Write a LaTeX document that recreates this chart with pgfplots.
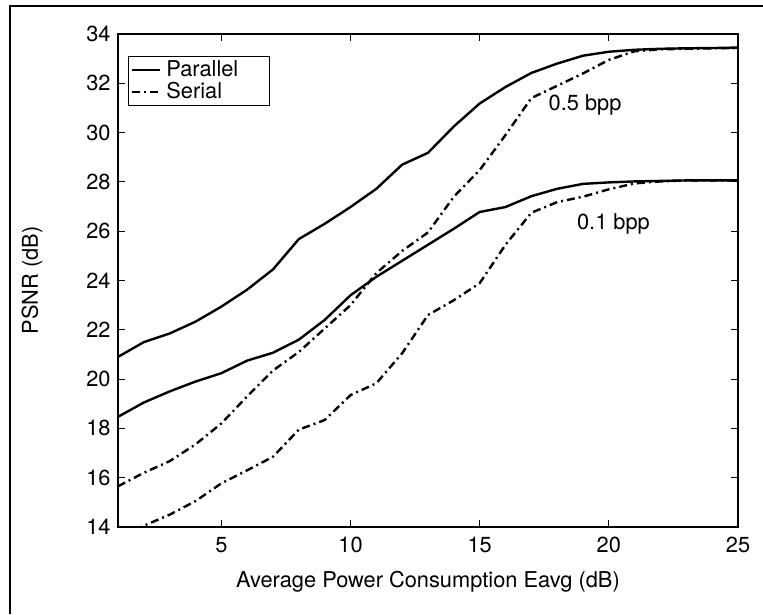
\documentclass[border=0pt]{standalone}
\usepackage{fontspec}
\setmainfont{TeX Gyre Heros}
\usepackage{pgfplots}
\pgfplotsset{compat=1.18}
\newcommand{\bigf}{\fontsize{21.8}{26}\selectfont}
\begin{document}
\bigf
\begin{tikzpicture}[x=1pt,y=1pt]
\useasboundingbox (0,0) rectangle (763,614);
\draw[line width=1.4pt] (10,0) -- (10,608) -- (763,608);
\begin{axis}[
  at={(118pt,87pt)}, anchor=south west,
  scale only axis, width=620pt, height=493pt,
  xmin=1, xmax=25, ymin=14, ymax=34,
  xtick={5,10,15,20,25}, ytick={14,16,...,34},
  tick align=inside, major tick length=7pt,
  axis line style={line width=1.2pt},
  every tick/.style={line width=1.2pt, black},
  /pgf/number format/assume math mode=true,
  ticklabel style={font=\bigf},
  xticklabel style={yshift=-3pt},
  xlabel={Average Power Consumption Eavg (dB)},
  ylabel={PSNR (dB)},
  label style={font=\bigf},
  xlabel style={at={(axis description cs:0.5,-0.1116)}, anchor=center},
  ylabel style={at={(axis description cs:-0.1387,0.5)}, anchor=center},
  legend style={at={(rel axis cs:0.0161,0.955)}, anchor=north west,
    draw=black, line width=1pt, font=\bigf,
    nodes={inner ysep=1.5pt, inner xsep=5.5pt}, row sep=0pt, inner sep=2pt},
  legend cell align=left,
  legend image code/.code={\draw[#1] (0pt,0pt) -- (28pt,0pt);},
]
\addplot[black, line width=2.4pt] coordinates {
(1,20.9) (2,21.5) (3,21.85) (4,22.33) (5,22.94) (6,23.63) (7,24.45) (8,25.68) (9,26.3) (10,26.98)
(11,27.72) (12,28.7) (13,29.18) (14,30.25) (15,31.18) (16,31.85) (17,32.42) (18,32.8) (19,33.12) (20,33.28)
(21,33.36) (22,33.4) (23,33.42) (24,33.43) (25,33.45)};
\addlegendentry{\bigf Parallel\hspace*{24pt}}
\addplot[black, line width=2.4pt, dash pattern=on 8pt off 4pt on 2pt off 4pt] coordinates {
(1,15.65) (2,16.2) (3,16.67) (4,17.35) (5,18.2) (6,19.3) (7,20.35) (8,21.1) (9,22.05) (10,23.0)
(11,24.3) (12,25.2) (13,25.95) (14,27.4) (15,28.48) (16,29.9) (17,31.4) (18,31.9) (19,32.4) (20,32.95)
(21,33.3) (22,33.38) (23,33.4) (24,33.42) (25,33.42)};
\addlegendentry{\bigf Serial}
\addplot[black, line width=2.4pt, forget plot] coordinates {
(1,18.47) (2,19.05) (3,19.5) (4,19.9) (5,20.24) (6,20.75) (7,21.07) (8,21.6) (9,22.4) (10,23.4)
(11,24.15) (12,24.8) (13,25.45) (14,26.1) (15,26.78) (16,26.98) (17,27.42) (18,27.72) (19,27.92) (20,27.98)
(21,28.02) (22,28.04) (23,28.06) (24,28.06) (25,28.06)};
\addplot[black, line width=2.4pt, dash pattern=on 8pt off 4pt on 2pt off 4pt, forget plot] coordinates {
(1,13.6) (2,14.05) (3,14.5) (4,15.05) (5,15.77) (6,16.3) (7,16.85) (8,17.95) (9,18.34) (10,19.35)
(11,19.83) (12,21.05) (13,22.6) (14,23.2) (15,23.89) (16,25.45) (17,26.75) (18,27.18) (19,27.4) (20,27.7)
(21,27.94) (22,28.02) (23,28.06) (24,28.06) (25,28.06)};
\node[font=\bigf] at (axis cs:19.08,31.12) {0.5 bpp};
\node[font=\bigf] at (axis cs:20.18,26.29) {0.1 bpp};
\end{axis}
\end{tikzpicture}
\end{document}
